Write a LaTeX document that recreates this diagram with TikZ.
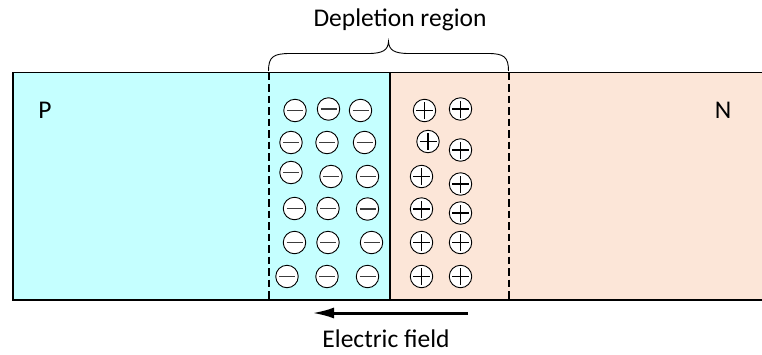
\documentclass[tikz,border=0pt]{standalone}
\usepackage{fontspec}
\setmainfont{Carlito}
\usetikzlibrary{arrows.meta}

\definecolor{pside}{RGB}{197,255,255}
\definecolor{nside}{RGB}{252,230,216}
\definecolor{signgray}{RGB}{60,60,60}

\tikzset{
  label text/.style={font=\fontsize{25.5}{30}\selectfont, inner sep=0pt, anchor=base},
  ion/.style={circle, draw=black, line width=0.9pt, fill=white, minimum size=22.5pt, inner sep=0pt},
  anion/.style={ion, path picture={
      \draw[signgray, line width=1.6pt] ([xshift=-8pt]path picture bounding box.center) -- ([xshift=8pt]path picture bounding box.center);}},
  cation/.style={ion, path picture={
      \draw[black, line width=1.1pt] ([xshift=-8.5pt]path picture bounding box.center) -- ([xshift=8.5pt]path picture bounding box.center);
      \draw[black, line width=1.1pt] ([yshift=-8.5pt]path picture bounding box.center) -- ([yshift=8.5pt]path picture bounding box.center);}},
  edge line/.style={line width=2pt, dash pattern=on 7.5pt off 4pt},
}

\begin{document}
\begin{tikzpicture}[x=1pt, y=-1pt]
  \useasboundingbox (0,0) rectangle (762,354);

  % the two doped regions of the junction
  \fill[pside] (13,72.5) rectangle (390,300);
  \fill[nside] (390,72.5) rectangle (770,300);
  \draw[line width=1.4pt] (770,72.5) -- (13,72.5) -- (13,300) -- (770,300);
  \draw[line width=1.2pt] (390,72.5) -- (390,300);

  % boundaries of the depletion region
  \coordinate (dl top) at (268.5,72.5);
  \coordinate (dl bot) at (268.5,300);
  \coordinate (dr top) at (508.5,72.5);
  \coordinate (dr bot) at (508.5,300);
  \draw[edge line] (dl top) -- (dl bot);
  \draw[edge line] (dr top) -- (dr bot);

  % brace over the depletion region
  \draw[line width=0.9pt] (268.5,71)
      .. controls (268.5,57) and (273,53.5) .. (290,53.5) -- (368,53.5)
      .. controls (383,53.5) and (388,50) .. (388.5,41.5)
      .. controls (389,50) and (394,53.5) .. (409,53.5) -- (488,53.5)
      .. controls (504,53.5) and (508.5,57) .. (508.5,71);

  \node[label text] (dep) at (400,26.5) {Depletion region};
  \node[label text, anchor=center] (p) at (45,110) {P};
  \node[label text, anchor=center] (n) at (723,110) {N};

  % fixed negative ions on the P side
  \foreach \x/\y [count=\i] in {
      295/110.5, 328.5/109, 360.5/110.5,
      291/142.5, 327/142.5, 364.5/142.5,
      291/172.5, 331/176.5, 367.5/176.5,
      294.5/208.5, 328/208.5, 367.5/209,
      294.5/242.5, 328/242.5, 371.5/242.5,
      287/276.5, 327/276.5, 367.5/276.5}
    \node[anion] (neg\i) at (\x,\y) {};

  % fixed positive ions on the N side
  \foreach \x/\y [count=\i] in {
      424.5/110.5, 460.5/109,
      428/141.5, 460.5/150,
      421.5/176.5, 460.5/184,
      421.5/209, 460.5/213,
      421.5/242.5, 460.5/242.5,
      421.5/276.5, 460.5/276.5}
    \node[cation] (pos\i) at (\x,\y) {};

  % direction of the built-in field
  \coordinate (field start) at (468,313);
  \coordinate (field end) at (312,313);
  \draw[line width=3pt, -{Latex[length=22pt, width=11pt]}] (field start) -- (field end);
  \node[label text] (ef) at (386,347.5) {Electric field};
\end{tikzpicture}
\end{document}
